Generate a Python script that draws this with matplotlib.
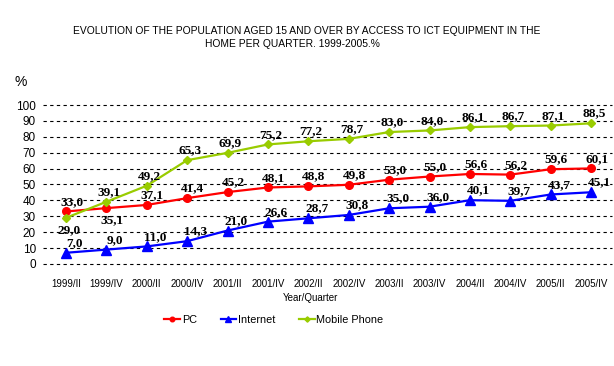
import matplotlib
matplotlib.use("Agg")
import matplotlib.pyplot as plt

quarters = ["1999/II", "1999/IV", "2000/II", "2000/IV", "2001/II", "2001/IV",
            "2002/II", "2002/IV", "2003/II", "2003/IV", "2004/II", "2004/IV",
            "2005/II", "2005/IV"]
pc = [33.0, 35.1, 37.1, 41.4, 45.2, 48.1, 48.8, 49.8, 53.0, 55.0, 56.6, 56.2, 59.6, 60.1]
internet = [7.0, 9.0, 11.0, 14.3, 21.0, 26.6, 28.7, 30.8, 35.0, 36.0, 40.1, 39.7, 43.7, 45.1]
mobile = [29.0, 39.1, 49.2, 65.3, 69.9, 75.2, 77.2, 78.7, 83.0, 84.0, 86.1, 86.7, 87.1, 88.5]
y_ticks = list(range(0, 101, 10))

# name, values, colour, marker, marker size, label x shift (pt)
series = [
    ("PC", pc, "#ff0000", "o", 5.5, 4),
    ("Internet", internet, "#0000ff", "^", 6.5, 6),
    ("Mobile Phone", mobile, "#99cc00", "D", 4.5, 2),
]
# labels that sit under their point instead of above
below = {("PC", 1), ("Mobile Phone", 0)}

fig = plt.figure(figsize=(6.14, 3.66), dpi=100)
ax = fig.add_axes([0.070, 0.279, 0.927, 0.434])

x = list(range(len(quarters)))
for name, vals, color, marker, ms, dx in series:
    ax.plot(x, vals, color=color, lw=1.6, marker=marker, ms=ms,
            label=name, clip_on=False, zorder=3)
    for i, v in enumerate(vals):
        dy = -9 if (name, i) in below else 7
        ax.annotate(f"{v:.1f}".replace(".", ","), (i, v),
                    xytext=(dx, dy), textcoords="offset points",
                    ha="center", va="center", fontsize=9.5,
                    family="Liberation Serif", fontweight="bold", zorder=4)

for t in y_ticks:
    ax.axhline(t, color="black", lw=0.8, ls=(0, (3, 3)), zorder=1, clip_on=False)

ax.set_xlim(-0.57, 13.52)
ax.set_ylim(0, 100)
ax.set_yticks(y_ticks)
ax.set_xticks(x)
ax.set_xticklabels(quarters)
ax.tick_params(axis="y", length=0, pad=5, labelsize=8.5)
ax.tick_params(axis="x", length=0, pad=11, labelsize=7)
for lbl in ax.get_xticklabels() + ax.get_yticklabels():
    lbl.set_family("Liberation Sans")
for s in ax.spines.values():
    s.set_visible(False)

fig.text(307 / 614, 1 - 31 / 366,
         "EVOLUTION OF THE POPULATION AGED 15 AND OVER BY ACCESS TO ICT EQUIPMENT IN THE",
         ha="center", va="center", fontsize=7.4, family="Liberation Sans")
fig.text(292 / 614, 1 - 44 / 366, "HOME PER QUARTER. 1999-2005.%",
         ha="center", va="center", fontsize=7.4, family="Liberation Sans")
fig.text(21 / 614, 1 - 82 / 366, "%", ha="center", va="center",
         fontsize=10, family="Liberation Sans")
fig.text(311 / 614, 1 - 298 / 366, "Year/Quarter", ha="center", va="center",
         fontsize=7, family="Liberation Sans")

fig.legend(loc="center", bbox_to_anchor=(274 / 614, 1 - 320 / 366), ncol=3,
           frameon=False, prop={"family": "Liberation Sans", "size": 7.8},
           handlelength=1.45, handletextpad=0.15, columnspacing=2.2,
           markerscale=0.6)

fig.savefig("out.png", dpi=100)
